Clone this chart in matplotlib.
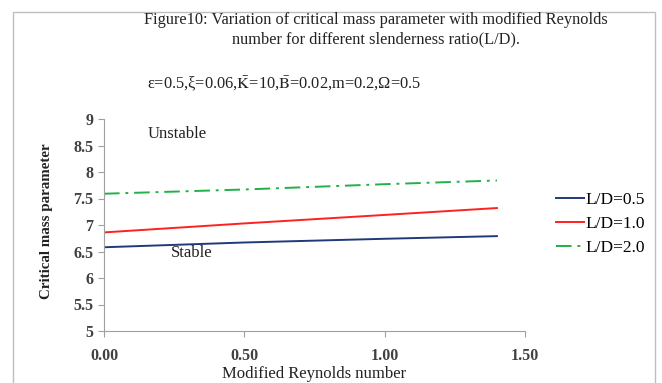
import matplotlib
matplotlib.use("Agg")
import matplotlib.pyplot as plt
from matplotlib.patches import Rectangle

plt.rcParams['font.family'] = ['Liberation Serif', 'DejaVu Serif']
plt.rcParams['mathtext.fontset'] = 'stix'

reynolds = [0.0, 0.5, 1.0, 1.4]
ld_05 = [6.58, 6.67, 6.74, 6.79]
ld_10 = [6.86, 7.03, 7.19, 7.32]
ld_20 = [7.59, 7.67, 7.77, 7.84]
series_labels = ["L/D=0.5", "L/D=1.0", "L/D=2.0"]
xticks = [0.0, 0.5, 1.0, 1.5]
xtick_labels = ["0.00", "0.50", "1.00", "1.50"]
yticks = [5, 5.5, 6, 6.5, 7, 7.5, 8, 8.5, 9]
ytick_labels = ["5", "5.5", "6", "6.5", "7", "7.5", "8", "8.5", "9"]

fig = plt.figure(figsize=(6.62, 3.83), dpi=100)
fig.patches.append(Rectangle((13/662, -0.01), (655-13)/662, 1 - 12/383 + 0.01,
                             transform=fig.transFigure, fill=False,
                             edgecolor='#bfbfbf', linewidth=1.0))

ax = fig.add_axes([104/662, 1-331/383, (525-104)/662, (331-119)/383])
ax.plot(reynolds, ld_05, color='#1f3a7a', lw=1.4, label=series_labels[0])
ax.plot(reynolds, ld_10, color='#ff2020', lw=1.4, label=series_labels[1])
ax.plot(reynolds, ld_20, color='#22b04a', lw=1.4, ls=(0, (8, 3, 1.5, 3)), label=series_labels[2])

ax.set_xlim(0, 1.5)
ax.set_ylim(5, 9)
ax.set_xticks(xticks)
ax.set_xticklabels(xtick_labels, fontweight='bold')
ax.set_yticks(yticks)
ax.set_yticklabels(ytick_labels, fontweight='bold')
for s in ['top', 'right']:
    ax.spines[s].set_visible(False)
for s in ['left', 'bottom']:
    ax.spines[s].set_color('#a0a0a0')
ax.tick_params(axis='both', colors='#a0a0a0', labelcolor='#404040', labelsize=11.5, length=4, direction='out')
ax.tick_params(axis='x', pad=8)

ax.set_xlabel("Modified Reynolds number", fontsize=12, color='#222222')
ax.xaxis.set_label_coords(0.5, -0.165)
ax.set_ylabel("Critical mass parameter", fontsize=10.8, color='#222222', fontweight='bold')
ax.yaxis.set_label_coords(-0.122, 0.52)

ax.text(0.157, 8.72, "Unstable", fontsize=12, color='#222222', va='center')
ax.text(0.24, 6.47, "Stable", fontsize=12, color='#222222', va='center')

leg = ax.legend(loc='center left', bbox_to_anchor=(1.058, 0.505), frameon=False,
                fontsize=12.5, handlelength=1.6, handletextpad=0.1, labelspacing=0.45,
                borderaxespad=0)

fig.text(376/662, 1-20/383, "Figure10: Variation of critical mass parameter with modified Reynolds",
         ha='center', va='center', fontsize=11.8, color='#222222')
fig.text(376/662, 1-39/383, "number for different slenderness ratio(L/D).",
         ha='center', va='center', fontsize=11.8, color='#222222')
fig.text(147/662, 1-84/383, "ε=0.5,ξ=0.06,$\\bar{\\mathrm{K}}$=10,$\\bar{\\mathrm{B}}$=0.02,m=0.2,Ω=0.5",
         ha='left', va='center', fontsize=11.8, color='#222222')

fig.savefig("out.png", dpi=100)
